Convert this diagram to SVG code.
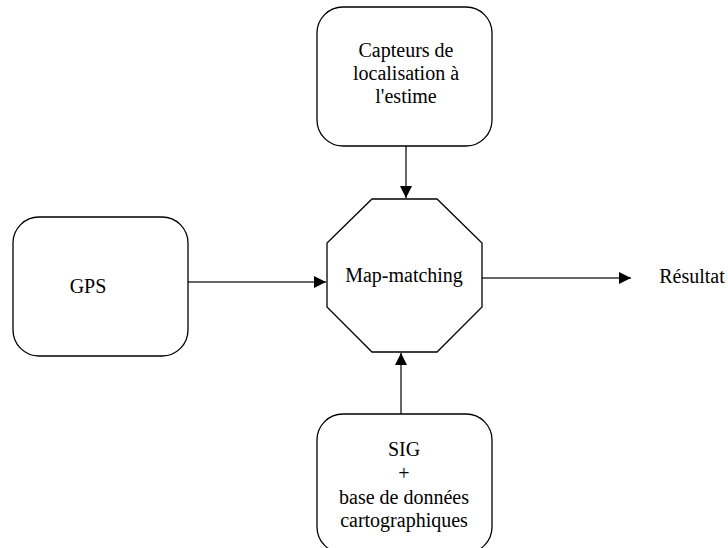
<svg xmlns="http://www.w3.org/2000/svg" width="728" height="548" viewBox="0 0 728 548">
<defs>
<marker id="ah" viewBox="0 0 12 12" refX="12" refY="6" markerWidth="12" markerHeight="12" markerUnits="userSpaceOnUse" orient="auto">
<path d="M0,0 L12,6 L0,12 Z" fill="#000"/>
</marker>
</defs>
<style>
.box{fill:#fff;stroke:#000;stroke-width:1.3}
.t{font-family:"Liberation Serif","Times New Roman",Times,"DejaVu Serif",serif;font-size:20px;fill:#000;text-anchor:middle}
.c{fill:none;stroke:#333;stroke-width:1.5;marker-end:url(#ah)}
</style>
<rect width="728" height="548" fill="#fff"/>
<g id="connectors">
<line class="c" x1="406" y1="146" x2="406" y2="198"/>
<line class="c" x1="188" y1="282" x2="326" y2="282"/>
<line class="c" x1="482" y1="278" x2="631" y2="278"/>
<line class="c" x1="401" y1="414" x2="401" y2="353"/>
</g>
<g id="capteurs">
<rect class="box" x="317" y="7" width="175" height="139" rx="26" ry="26"/>
<text class="t" x="406" y="57">Capteurs de</text>
<text class="t" x="406" y="80">localisation à</text>
<text class="t" x="406" y="103">l'estime</text>
</g>
<g id="gps">
<rect class="box" x="13" y="217" width="175" height="139" rx="26" ry="26"/>
<text class="t" x="88" y="293">GPS</text>
</g>
<g id="mapmatching">
<polygon class="box" points="372,199 437,199 482,243 482,307 437,352 372,352 327,307 327,243"/>
<text class="t" x="404" y="282">Map-matching</text>
</g>
<g id="resultat">
<text class="t" x="692" y="283">Résultat</text>
</g>
<g id="sig">
<rect class="box" x="317" y="414" width="175" height="139" rx="26" ry="26"/>
<text class="t" x="404" y="456">SIG</text>
<text class="t" x="404" y="480">+</text>
<text class="t" x="404" y="504">base de données</text>
<text class="t" x="404" y="527">cartographiques</text>
</g>
</svg>
